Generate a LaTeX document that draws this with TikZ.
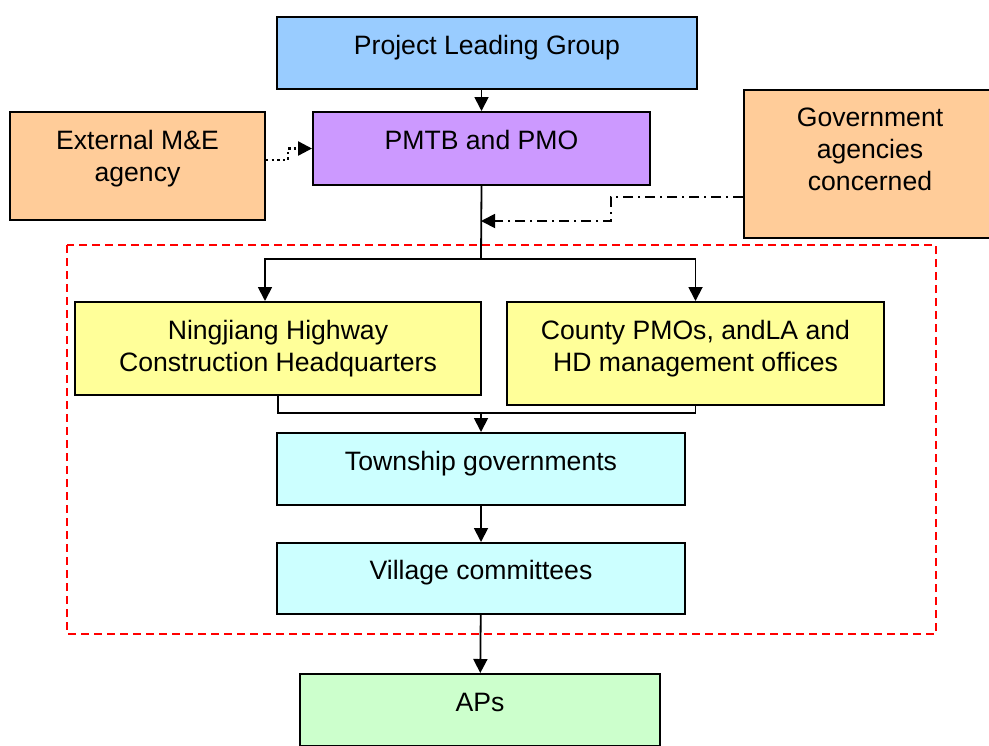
\documentclass[tikz,border=0pt]{standalone}
\usepackage{fontspec}
\setmainfont{Liberation Sans}
\usetikzlibrary{arrows.meta}
\definecolor{leadblue}{HTML}{99CCFF}
\definecolor{pmolilac}{HTML}{CC99FF}
\definecolor{peach}{HTML}{FFCC99}
\definecolor{lemon}{HTML}{FFFF99}
\definecolor{aqua}{HTML}{CCFFFF}
\definecolor{mint}{HTML}{CCFFCC}
\tikzset{
  box/.style={draw=black, line width=1pt, align=center, inner sep=0pt},
  oneline/.style={text height=10pt, text depth=9pt},
  arr/.style={-{Triangle[length=7pt,width=7pt]}, line width=0.9pt},
  dotarr/.style={arr, line width=1.2pt, dash pattern=on 1.2pt off 1.6pt},
  dasharr/.style={arr, dash pattern=on 5pt off 2.5pt on 1pt off 2.5pt},
  frame/.style={draw=red, line width=0.7pt, dash pattern=on 4pt off 2.5pt},
}

\begin{document}
\begin{tikzpicture}[x=0.5pt, y=-0.5pt, font=\fontsize{13.3pt}{16pt}\selectfont]
  \useasboundingbox (0,0) rectangle (989,745);
  \node[box, oneline, fill=leadblue, minimum width=210pt, minimum height=36pt] (plg) at (487,53) {Project Leading Group};
  \node[box, oneline, fill=pmolilac, minimum width=168.5pt, minimum height=36.5pt] (pmtb) at (481.5,148.5) {PMTB and PMO};
  \node[box, fill=peach, minimum width=127.5pt, minimum height=54pt, text depth=10.6pt] (ext) at (137.5,166) {External M\&E\\agency};
  \node[box, fill=peach, minimum width=126pt, minimum height=74pt, text depth=14.6pt] (gov) at (870,164) {Government\\agencies\\concerned};
  % implementation level
  \draw[frame] (67,245) rectangle (936,634);
  \node[box, fill=lemon, minimum width=203pt, minimum height=46.5pt, text depth=3.1pt] (nj) at (278,348.5) {Ningjiang Highway\\Construction Headquarters};
  \node[box, fill=lemon, minimum width=188.5pt, minimum height=51.5pt, text depth=8.1pt] (county) at (695.5,353.5) {County PMOs, andLA and\\HD management offices};
  \node[box, oneline, fill=aqua, minimum width=204pt, minimum height=36pt] (town) at (481,469) {Township governments};
  \node[box, oneline, fill=aqua, minimum width=204pt, minimum height=35.5pt] (village) at (481,578.5) {Village committees};
  \node[box, oneline, fill=mint, minimum width=180pt, minimum height=36pt] (aps) at (480,710) {APs};
  \coordinate (split) at (481,259);
  \coordinate (hit) at (481,221);
  \coordinate (merge) at (481,413);
  \draw[arr] (pmtb.north |- plg.south) -- (pmtb.north);
  \draw[line width=0.9pt] (pmtb.south) -- (split);
  \draw[arr] (split) -| ([xshift=-6.5pt]nj.north);
  \draw[arr] (split) -| (county.north);
  \draw[line width=0.9pt] (nj.south) |- (merge) -| (county.south);
  \draw[arr] (merge) -- (town.north);
  \draw[arr] (town) -- (village);
  \draw[arr] (village) -- (aps);
  % monitoring and coordination
  \draw[dotarr] ([yshift=3pt]ext.east) -- ++(22,0) |- (pmtb.west);
  \draw[dasharr] ([yshift=-16.5pt]gov.west) -- ++(-132,0) -- ++(0,24) -- (hit);
\end{tikzpicture}
\end{document}
